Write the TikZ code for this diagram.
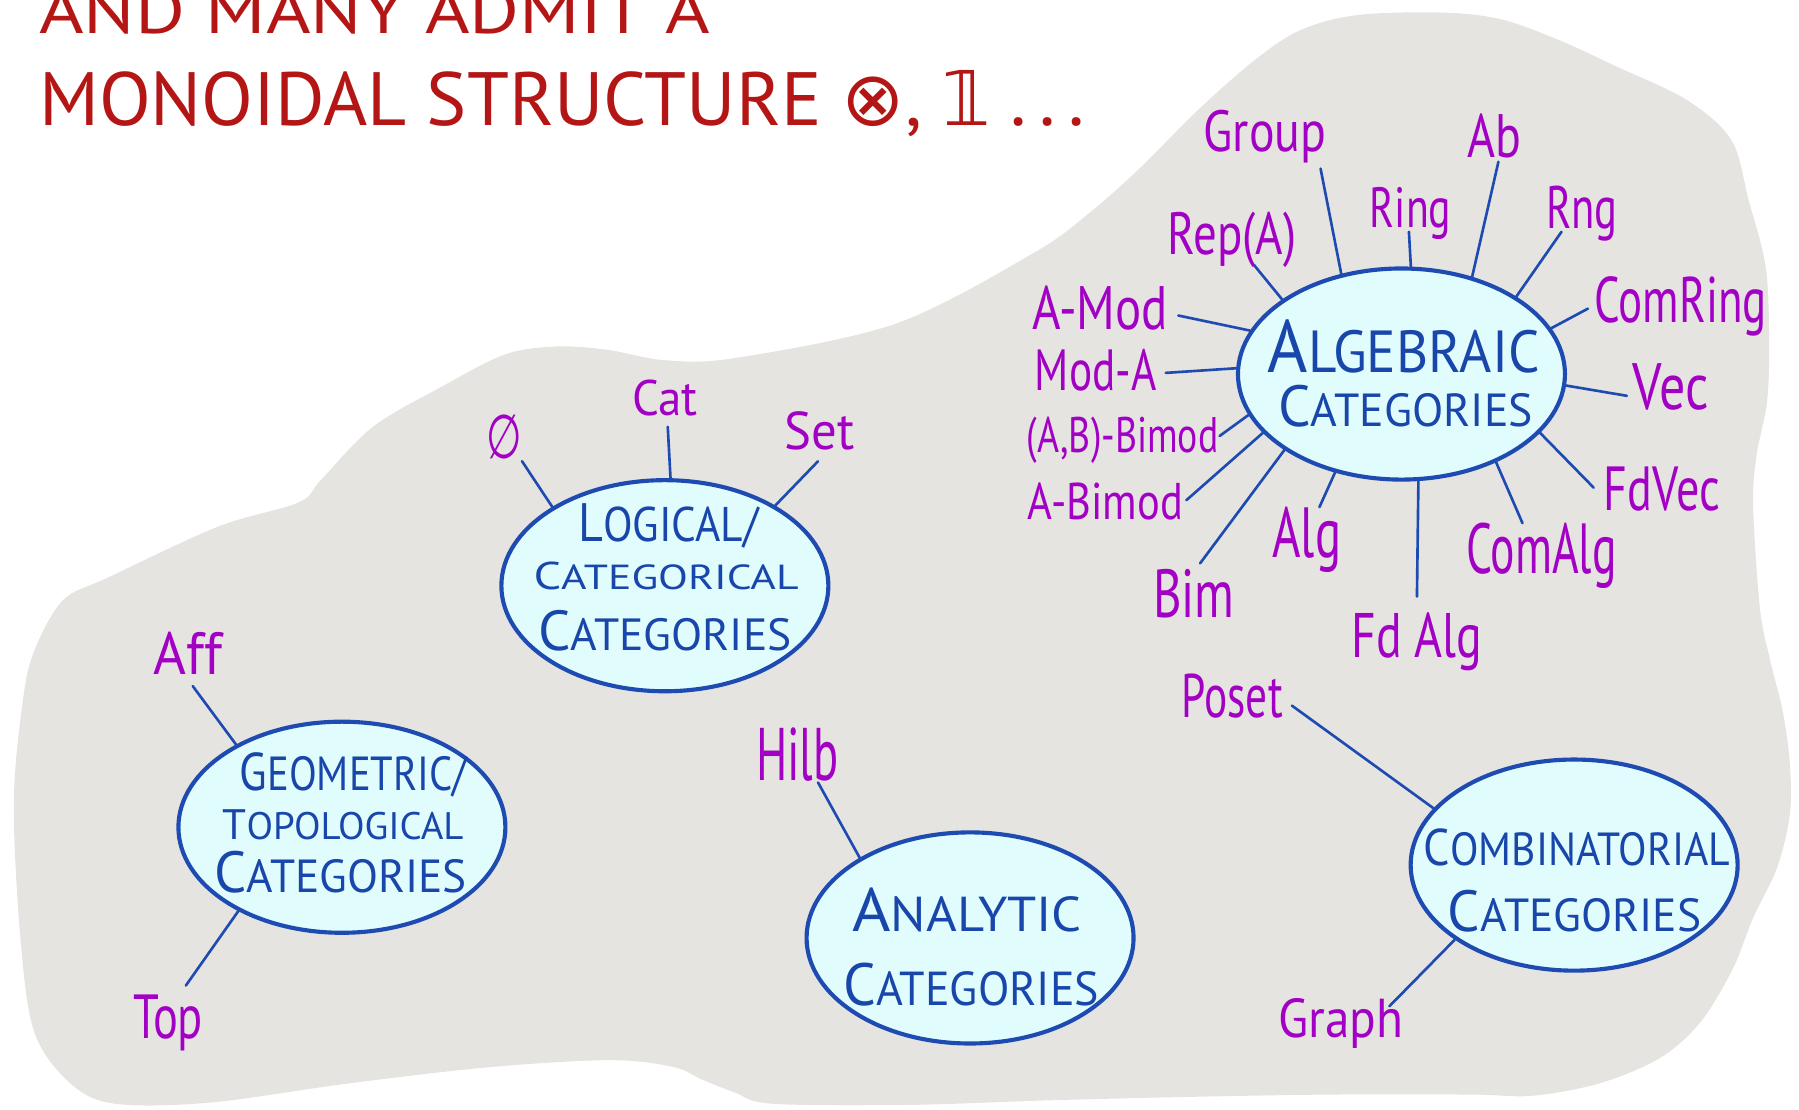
\documentclass[tikz,border=0pt]{standalone}
\usepackage{fontspec}
\setmainfont{PT Sans}
\newfontfamily\symfont{DejaVu Sans}
\usetikzlibrary{shapes.geometric}

\definecolor{blobgray}{RGB}{230,228,225}
\definecolor{catfill}{RGB}{224,252,252}
\definecolor{catline}{RGB}{30,75,178}
\definecolor{catink}{RGB}{25,70,170}
\definecolor{objink}{RGB}{162,0,196}
\definecolor{titleink}{RGB}{180,22,22}

% squeeze a piece of text into a box of given width and height (in pt)
\newcommand\fitto[3]{\resizebox{#1pt}{#2pt}{#3}}
% hand-lettered small caps: larger first letter, smaller rest
\newcommand\capsline[2]{{\fontsize{20}{24}\selectfont #1}{\fontsize{16}{19}\selectfont #2}}
\newcommand\capslineeven[2]{{\fontsize{20}{24}\selectfont #1}{\fontsize{18}{21}\selectfont #2}}

\tikzset{
  cat/.style={ellipse, draw=catline, line width=3.6pt, fill=catfill,
              minimum width=285pt, minimum height=184pt, inner sep=0pt},
  catname/.style={text=catink, anchor=base, inner sep=0pt},
  obj/.style={text=objink, anchor=base, inner sep=0pt},
  spoke/.style={draw=catline, line width=2.3pt, line cap=round},
  headline/.style={text=titleink, anchor=base west, inner sep=0pt}
}

\begin{document}
\begin{tikzpicture}[x=1pt, y=-1pt]
\useasboundingbox (0,0) rectangle (1568,967);

% grey backdrop
\fill[blobgray] plot[smooth cycle, tension=0.55] coordinates {
  (100,962) (61,944) (30,900) (18,820) (12,700) (20,610) (30,567) (55,523)
  (95,503) (190,459) (260,438) (280,418) (325,372) (385,337) (440,309)
  (485,302) (530,305) (580,314) (641,312) (781,282) (900,221) (949,186)
  (994,146) (1044,96) (1094,52) (1134,26) (1184,13) (1259,11) (1309,17)
  (1359,35) (1409,58) (1470,87) (1509,122) (1524,174) (1539,233) (1542,300)
  (1540,351) (1531,397) (1528,441) (1534,531) (1543,576) (1554,621)
  (1560,666) (1560,710) (1549,756) (1528,800) (1510,845) (1482,891)
  (1447,922) (1395,944) (1336,955) (1282,954) (1160,954) (1038,956)
  (915,959) (793,963) (673,962) (640,952) (612,941) (587,930) (532,924)
  (428,930) (306,944) (183,961)};

% heading
\node[headline] (head-a) at (34,29) {\fitto{584}{40}{AND MANY ADMIT A}};
\node[headline] (head-b) at (34,109)
  {\fitto{911}{48}{MONOIDAL STRUCTURE {\symfont ⊗}, {\symfont 𝟙} .\,.\,.}};

% the five families of categories
\node[cat] (alg) at (1221.5,326) {};
\node[cat] (log) at (579.5,510.5) {};
\node[cat] (geo) at (298,721) {};
\node[cat] (ana) at (845.5,817.5) {};
\node[cat] (com) at (1372,754) {};

\node[catname] (alg-a) at (1223.5,325) {\fitto{237}{46}{\capsline{A}{LGEBRAIC}}};
\node[catname] (alg-b) at (1225,372)   {\fitto{222}{36}{\capsline{C}{ATEGORIES}}};

\node[catname] (log-a) at (582.5,472) {\fitto{157}{33}{\capslineeven{L}{OGICAL/}}};
\node[catname] (log-b) at (580.5,514) {\fitto{231}{24}{\capslineeven{C}{ATEGORICAL}}};
\node[catname] (log-c) at (579.5,567) {\fitto{221}{35}{\capsline{C}{ATEGORIES}}};

\node[catname] (geo-a) at (308,689) {\fitto{198}{33}{\capslineeven{G}{EOMETRIC/}}};
\node[catname] (geo-b) at (299,732) {\fitto{210}{26}{\capslineeven{T}{OPOLOGICAL}}};
\node[catname] (geo-c) at (297,778) {\fitto{220}{36}{\capsline{C}{ATEGORIES}}};

\node[catname] (ana-a) at (843,812)   {\fitto{200}{38}{\capsline{A}{NALYTIC}}};
\node[catname] (ana-b) at (846.5,876) {\fitto{223}{37}{\capsline{C}{ATEGORIES}}};

\node[catname] (com-a) at (1374.5,754) {\fitto{267}{32}{\capslineeven{C}{OMBINATORIAL}}};
\node[catname] (com-b) at (1372.5,812) {\fitto{221}{36}{\capsline{C}{ATEGORIES}}};

% example categories around the algebraic family
\node[obj] (group)   at (1102.5,132) {\fitto{107}{36}{Group}};
\node[obj] (ring)    at (1229.5,198) {\fitto{71}{35}{Ring}};
\node[obj] (ab)      at (1302.5,137) {\fitto{47}{38}{Ab}};
\node[obj] (rng)     at (1379,199)   {\fitto{62}{37}{Rng}};
\node[obj] (comring) at (1465,281)   {\fitto{150}{40}{ComRing}};
\node[obj] (vec)     at (1456,357)   {\fitto{66}{40}{Vec}};
\node[obj] (fdvec)   at (1448.5,445) {\fitto{101}{38}{FdVec}};
\node[obj] (comalg)  at (1343.5,500) {\fitto{131}{44}{ComAlg}};
\node[obj] (fdalg)   at (1235,573)   {\fitto{114}{39}{Fd Alg}};
\node[obj] (algs)    at (1139,486)   {\fitto{60}{44}{Alg}};
\node[obj] (bim)     at (1040.5,538) {\fitto{71}{42}{Bim}};
\node[obj] (abimod)  at (963.5,453)  {\fitto{135}{32}{A-Bimod}};
\node[obj] (abbimod) at (978.5,394)  {\fitto{167}{31}{(A,B)-Bimod}};
\node[obj] (moda)    at (955,340)    {\fitto{106}{36}{Mod-A}};
\node[obj] (amod)    at (959,287)    {\fitto{118}{38}{A-Mod}};
\node[obj] (repa)    at (1074,222)   {\fitto{112}{37}{Rep(A)}};

% examples for the other families
\node[obj] (empty) at (439.5,400) {\fitto{31}{38}{{\symfont ∅}}};
\node[obj] (cat)   at (579.5,362) {\fitto{57}{31}{Cat}};
\node[obj] (set)   at (714.5,392) {\fitto{61}{33}{Set}};
\node[obj] (aff)   at (164,588)   {\fitto{60}{37}{Aff}};
\node[obj] (top)   at (146.5,905) {\fitto{61}{38}{Top}};
\node[obj] (hilb)  at (695,680)   {\fitto{72}{46}{Hilb}};
\node[obj] (poset) at (1074,625)  {\fitto{88}{38}{Poset}};
\node[obj] (graph) at (1168.5,904){\fitto{109}{34}{Graph}};

% loose ends of the spokes, just short of each example
\coordinate (group-e)   at (1151,147);
\coordinate (ring-e)    at (1228,202);
\coordinate (ab-e)      at (1306,141);
\coordinate (rng-e)     at (1361,202);
\coordinate (comring-e) at (1384,269);
\coordinate (vec-e)     at (1418,345);
\coordinate (fdvec-e)   at (1389,425);
\coordinate (comalg-e)  at (1327,456);
\coordinate (fdalg-e)   at (1235,520);
\coordinate (algs-e)    at (1150,442);
\coordinate (bim-e)     at (1046,491);
\coordinate (abimod-e)  at (1034,436);
\coordinate (abbimod-e) at (1063,380);
\coordinate (moda-e)    at (1016,325);
\coordinate (amod-e)    at (1027,275);
\coordinate (repa-e)    at (1093,231);
\coordinate (empty-e)   at (455,402);
\coordinate (cat-e)     at (582,372);
\coordinate (set-e)     at (713,402);
\coordinate (aff-e)     at (168,598);
\coordinate (top-e)     at (162,859);
\coordinate (hilb-e)    at (713,682);
\coordinate (poset-e)   at (1126,615);
\coordinate (graph-e)   at (1211,877);

% spokes
\draw[spoke] (group-e)   -- (alg.121.9);
\draw[spoke] (ring-e)    -- (alg.85.9);
\draw[spoke] (ab-e)      -- (alg.54.2);
\draw[spoke] (rng-e)     -- (alg.34.6);
\draw[spoke] (comring-e) -- (alg.17.7);
\draw[spoke] (vec-e)     -- (alg.-4.4);
\draw[spoke] (fdvec-e)   -- (alg.-23.2);
\draw[spoke] (comalg-e)  -- (alg.-43.0);
\draw[spoke] (fdalg-e)   -- (alg.-81.8);
\draw[spoke] (algs-e)    -- (alg.236.2);
\draw[spoke] (bim-e)     -- (alg.213.8);
\draw[spoke] (abimod-e)  -- (alg.203.2);
\draw[spoke] (abbimod-e) -- (alg.195.1);
\draw[spoke] (moda-e)    -- (alg.178.4);
\draw[spoke] (amod-e)    -- (alg.164.3);
\draw[spoke] (repa-e)    -- (alg.148.3);
\draw[spoke] (empty-e)   -- (log.145.2);
\draw[spoke] (cat-e)     -- (log.87.2);
\draw[spoke] (set-e)     -- (log.36.7);
\draw[spoke] (aff-e)     -- (geo.142.3);
\draw[spoke] (top-e)     -- (geo.219.4);
\draw[spoke] (hilb-e)    -- (ana.144.2);
\draw[spoke] (poset-e)   -- (com.158.5);
\draw[spoke] (graph-e)   -- (com.212.0);
\end{tikzpicture}
\end{document}
